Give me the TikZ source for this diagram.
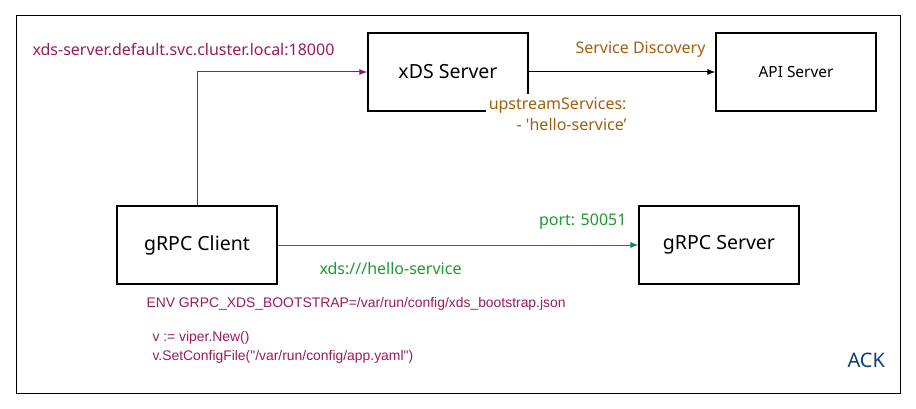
\documentclass[tikz,border=0pt]{standalone}
\usepackage{fontspec}
\setmainfont{Noto Sans}
\newfontfamily\codefont{Liberation Sans}
\usetikzlibrary{positioning,arrows.meta}
\definecolor{addrpurple}{HTML}{9B1B5A}
\definecolor{discbrown}{HTML}{A0600F}
\definecolor{callgreen}{HTML}{1E9A2E}
\definecolor{linegreen}{HTML}{14864A}
\definecolor{ackblue}{HTML}{0B3F7A}
\tikzset{
    box/.style={draw, line width=1.1pt, minimum width=160pt, minimum height=78pt,
        inner sep=0pt, font=\fontsize{19.5}{22}\selectfont},
    note/.style={inner sep=0pt, font=\fontsize{16}{21}\selectfont},
    code/.style={inner sep=0pt, text=addrpurple, font=\codefont\fontsize{13.9}{18.5}\selectfont},
    tip/.style={-{Latex[length=8pt,width=6pt]}}
}

\begin{document}
\begin{tikzpicture}[x=1pt, y=-1pt, line width=1pt]
    \useasboundingbox (0,0) rectangle (916,409);
    \draw (16,16) rectangle (900,393);

    \node (xds) [box] at (448,72) {xDS Server};
    \node (api) [box, font=\fontsize{15.4}{17}\selectfont] at (796,72) {API Server};
    \node (client) [box] at (197,245) {gRPC Client};
    \node (server) [box] at (719,245) {gRPC Server};

    \draw [tip, addrpurple] (client.north) |- (xds.west);
    \draw [tip] (xds) -- (api);
    \draw [tip, linegreen] (client) -- (server);

    \node (addr) [note, anchor=west, text=addrpurple] at (32,49)
        {xds-server.default.svc.cluster.local:18000};
    \node (disc) [note, anchor=west, text=discbrown] at (575,50) {Service Discovery};
    \node (ups) [note, fill=white, inner sep=3pt, align=right, anchor=north east, text=discbrown]
        at (630,94) {upstreamServices:\\- \textquotesingle hello-service'};
    \node (port) [note, anchor=east, text=callgreen] at (627,222) {port: 50051};
    \node (scheme) [note, anchor=west, text=callgreen] at (319,269) {xds:///hello-service};

    \node (env) [code, anchor=west] at (146,304)
        {ENV GRPC\_XDS\_BOOTSTRAP=/var/run/config/xds\_bootstrap.json};
    \node (viper) [code, anchor=north west, align=left] at (152,331)
        {v := viper.New()\\v.SetConfigFile("/var/run/config/app.yaml")};

    \node (ack) [note, anchor=west, text=ackblue, font=\fontsize{20}{22}\selectfont] at (847,360) {ACK};
\end{tikzpicture}
\end{document}
